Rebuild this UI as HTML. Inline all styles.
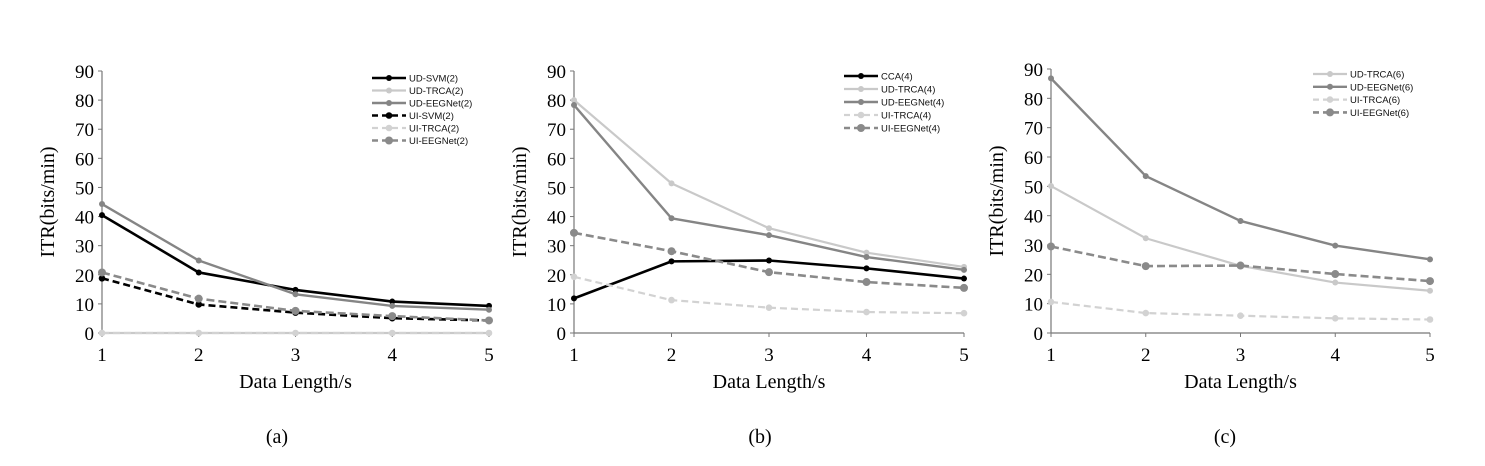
<!DOCTYPE html>
<html><head><meta charset="utf-8"><style>
html,body{margin:0;padding:0;background:#fff;}
svg{display:block;}
.tick{font-family:"Liberation Serif",serif;font-size:19px;fill:#000;}
.ttl{font-family:"Liberation Serif",serif;font-size:20px;fill:#000;}
.leg{font-family:"Liberation Sans",sans-serif;font-size:9.5px;fill:#111;}
</style></head><body>
<svg id="chart" width="1485" height="466" viewBox="0 0 1485 466" xmlns="http://www.w3.org/2000/svg"></svg>
<script>
const xCategories = [1, 2, 3, 4, 5];
const yTicks = [0, 10, 20, 30, 40, 50, 60, 70, 80, 90];
const panelCaptions = ["(a)", "(b)", "(c)"];
// panel a
const aNames = ["UD-SVM(2)", "UD-TRCA(2)", "UD-EEGNet(2)", "UI-SVM(2)", "UI-TRCA(2)", "UI-EEGNet(2)"];
const aUDSVM = [40.5, 20.8, 14.8, 10.8, 9.3];
const aUDTRCA = [0, 0, 0, 0, 0];
const aUDEEG = [44.3, 24.9, 13.3, 9.3, 8.0];
const aUISVM = [18.8, 9.8, 7.0, 5.1, 4.3];
const aUITRCA = [0, 0, 0, 0, 0];
const aUIEEG = [20.8, 11.8, 7.6, 5.8, 4.3];
// panel b
const bNames = ["CCA(4)", "UD-TRCA(4)", "UD-EEGNet(4)", "UI-TRCA(4)", "UI-EEGNet(4)"];
const bCCA = [11.9, 24.6, 24.9, 22.2, 18.7];
const bUDTRCA = [80.0, 51.4, 36.0, 27.6, 22.7];
const bUDEEG = [78.3, 39.4, 33.6, 26.1, 21.7];
const bUITRCA = [19.3, 11.3, 8.7, 7.2, 6.8];
const bUIEEG = [34.4, 28.1, 20.9, 17.5, 15.5];
// panel c
const cNames = ["UD-TRCA(6)", "UD-EEGNet(6)", "UI-TRCA(6)", "UI-EEGNet(6)"];
const cUDTRCA = [50.1, 32.3, 22.9, 17.2, 14.4];
const cUDEEG = [86.8, 53.5, 38.2, 29.8, 25.1];
const cUITRCA = [10.6, 6.8, 5.9, 5.0, 4.6];
const cUIEEG = [29.5, 22.8, 23.0, 20.1, 17.7];

const NS = "http://www.w3.org/2000/svg";
const svg = document.getElementById('chart');
function mk(tag, attrs, parent){const e=document.createElementNS(NS,tag);for(const k in attrs)e.setAttribute(k,attrs[k]);(parent||svg).appendChild(e);return e;}

const STY = {
  black:{c:"#000", w:2.6, d:null, r:3},
  light:{c:"#c9c9c9", w:2.2, d:null, r:3},
  mid:{c:"#858585", w:2.4, d:null, r:3},
  blackD:{c:"#000", w:2.6, d:"7,4", r:3.3},
  lightD:{c:"#d2d2d2", w:2.2, d:"7,4", r:3.3},
  midD:{c:"#8a8a8a", w:2.6, d:"8,4", r:4}
};

const panels = [
  {id:"a", x0:102, x1:489, y0:333, ymax:71, cap:277, legX:372, legY:78, legStep:12.5,
   names:aNames, series:[[aUDSVM,"black"],[aUDTRCA,"light"],[aUDEEG,"mid"],[aUISVM,"blackD"],[aUITRCA,"lightD"],[aUIEEG,"midD"]]},
  {id:"b", x0:574, x1:964, y0:333, ymax:71, cap:760, legX:844, legY:76, legStep:13,
   names:bNames, series:[[bCCA,"black"],[bUDTRCA,"light"],[bUDEEG,"mid"],[bUITRCA,"lightD"],[bUIEEG,"midD"]]},
  {id:"c", x0:1051, x1:1430, y0:333, ymax:69, cap:1225, legX:1313, legY:74, legStep:12.8,
   names:cNames, series:[[cUDTRCA,"light"],[cUDEEG,"mid"],[cUITRCA,"lightD"],[cUIEEG,"midD"]]}
];

panels.forEach((p, pi) => {
  const g = mk('g', {});
  
  
  const xs = v => p.x0 + (v - xCategories[0]) / (xCategories[xCategories.length-1] - xCategories[0]) * (p.x1 - p.x0);
  const ys = v => p.y0 - v / 90 * (p.y0 - p.ymax);
  // axes
  const ya = mk('line', {x1:p.x0, y1:ys(90), x2:p.x0, y2:p.y0, stroke:"#777", "stroke-width":1.2}, g);
  
  
  const xa = mk('line', {x1:p.x0, y1:p.y0, x2:p.x1, y2:p.y0, stroke:"#777", "stroke-width":1.2}, g);
  
  
  yTicks.forEach(t => {
    mk('line', {x1:p.x0-4, y1:ys(t), x2:p.x0, y2:ys(t), stroke:"#777", "stroke-width":1}, g);
    const tx = mk('text', {x:p.x0-8, y:ys(t)+7, "text-anchor":"end", class:"tick"}, g);
    
    
    tx.textContent = t;
  });
  xCategories.forEach(c => {
    mk('line', {x1:xs(c), y1:p.y0, x2:xs(c), y2:p.y0+4, stroke:"#777", "stroke-width":1}, g);
    const tx = mk('text', {x:xs(c), y:p.y0+28, "text-anchor":"middle", class:"tick"}, g);
    
    
    tx.textContent = c;
  });
  const yt = mk('text', {x:0, y:0, "text-anchor":"middle", class:"ttl", transform:`translate(${p.x0-48},${(p.y0+ys(90))/2}) rotate(-90)`}, g);
  
  
  yt.textContent = "ITR(bits/min)";
  const xt = mk('text', {x:(p.x0+p.x1)/2, y:p.y0+55, "text-anchor":"middle", class:"ttl"}, g);
  
  
  xt.textContent = "Data Length/s";
  const cp = mk('text', {x:p.cap, y:443, "text-anchor":"middle", class:"ttl"}, g);
  
  
  cp.textContent = panelCaptions[pi];
  // series
  p.series.forEach((s, si) => {
    const vals = s[0], st = STY[s[1]];
    const pts = vals.map((v, i) => xs(xCategories[i]) + "," + ys(v)).join(" ");
    const attrs = {points:pts, fill:"none", stroke:st.c, "stroke-width":st.w, "stroke-linejoin":"round"};
    if (st.d) attrs["stroke-dasharray"] = st.d;
    const pl = mk('polyline', attrs, g);
    
    
    vals.forEach((v, i) => {
      const c = mk('circle', {cx:xs(xCategories[i]), cy:ys(v), r:st.r, fill:st.c}, g);
      
      
    });
    // legend
    const ly = p.legY + si * p.legStep;
    const la = {x1:p.legX, y1:ly, x2:p.legX+34, y2:ly, stroke:st.c, "stroke-width":st.w};
    if (st.d) la["stroke-dasharray"] = "6,4";
    const ll = mk('line', la, g);
    
    
    mk('circle', {cx:p.legX+17, cy:ly, r:st.r, fill:st.c}, g);
    const lt = mk('text', {x:p.legX+37, y:ly+3.5, class:"leg"}, g);
    
    
    lt.textContent = p.names[si];
  });
});
</script>
</body></html>
